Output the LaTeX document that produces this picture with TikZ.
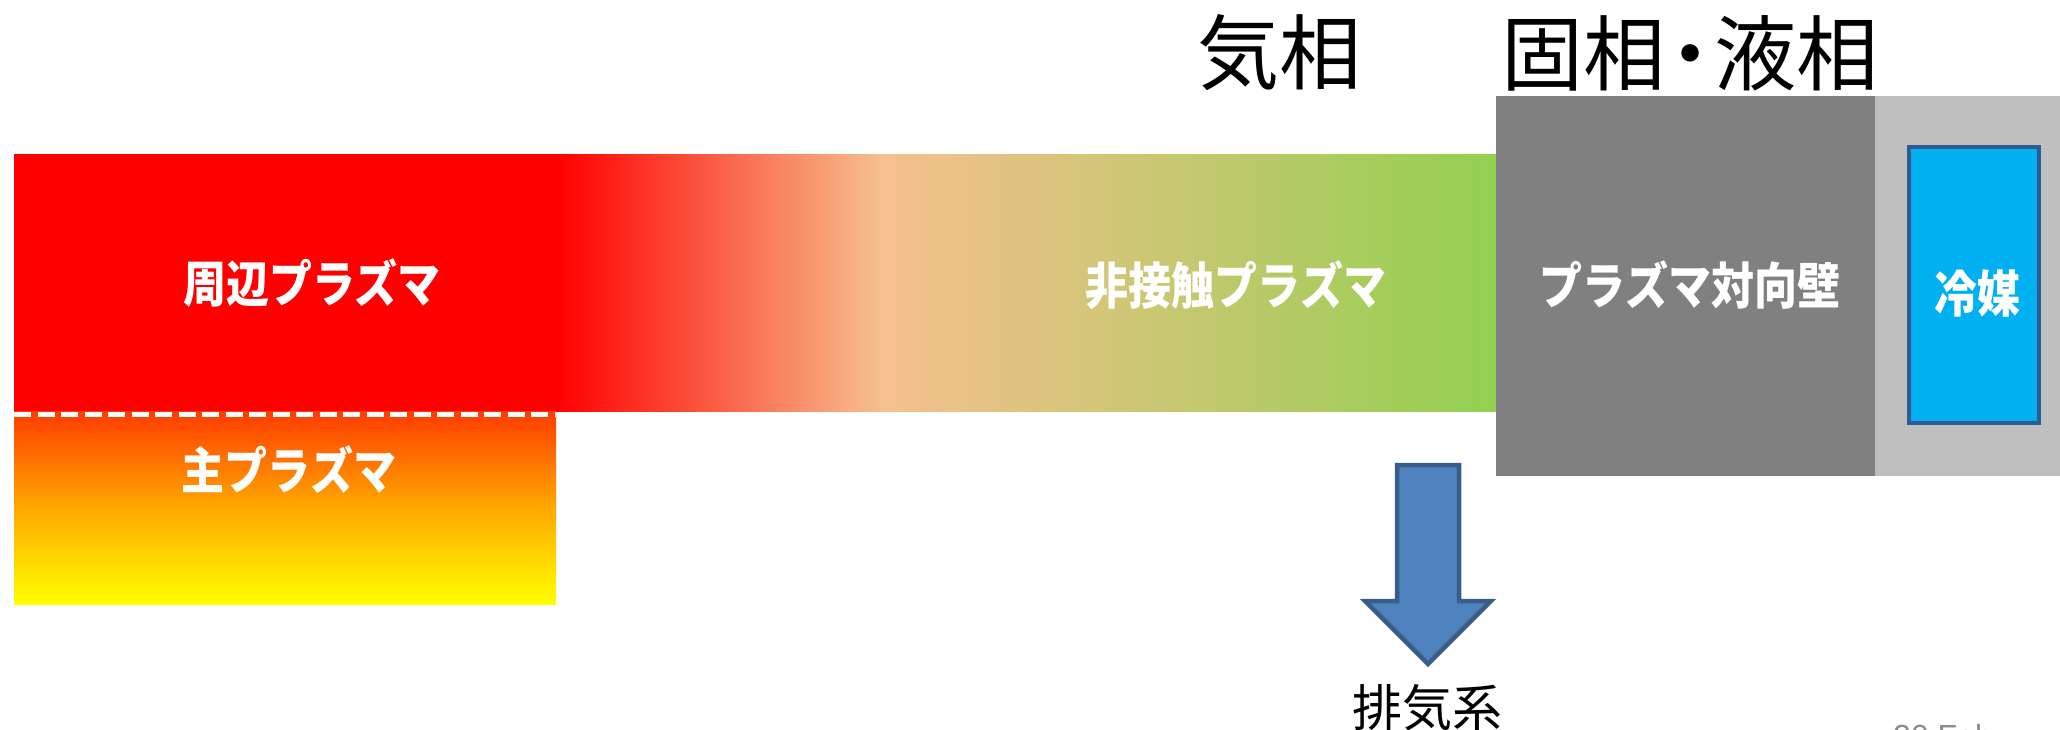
\documentclass[tikz,border=0pt]{standalone}
\usepackage{fontspec}
\setmainfont{Liberation Sans}
\newfontfamily\jp{Noto Sans CJK JP}
\newfontfamily\jpb{Noto Sans CJK JP}[FakeStretch=0.86]
\definecolor{plred}{HTML}{FF0000}
\definecolor{peach}{HTML}{F6C08E}
\definecolor{plgreen}{HTML}{92D050}
\definecolor{mainTop}{HTML}{FF3C00}
\definecolor{mainMid}{HTML}{FFA800}
\definecolor{mainBot}{HTML}{FFFF00}
\definecolor{wallgray}{HTML}{808080}
\definecolor{lightgray2}{HTML}{BFBFBF}
\definecolor{coolfill}{HTML}{00B0F0}
\definecolor{coolline}{HTML}{2F5B93}
\definecolor{arrfill}{HTML}{4F81BD}
\definecolor{arrline}{HTML}{385D8A}
\definecolor{footgray}{HTML}{8C8C8C}
\pgfdeclarehorizontalshading{barshade}{100bp}{color(0bp)=(plred); color(25bp)=(plred); color(43.3bp)=(plred); color(54.2bp)=(peach); color(75bp)=(plgreen); color(100bp)=(plgreen)}
\tikzset{
  whitelbl/.style={text=white, inner sep=0pt, font=\jpb\bfseries\fontsize{50}{55}\selectfont},
  titlelbl/.style={text=black, inner sep=0pt, font=\jp\fontsize{82}{90}\selectfont},
  smalllbl/.style={text=black, inner sep=0pt, font=\jp\fontsize{50}{55}\selectfont},
}
\begin{document}
\begin{tikzpicture}[x=1pt, y=-1pt]
\useasboundingbox (0,0) rectangle (2060,730);
% gradient bar (edge + detached plasma)
\shade[shading=barshade] (14,155) rectangle (1498,411);
% main plasma
\shade[top color=mainTop, bottom color=mainBot, middle color=mainMid] (14,411) rectangle (556,604);
\draw[white, line width=5pt, dash pattern=on 17pt off 6.5pt] (14,414) -- (556,414);
% wall and coolant
\fill[wallgray] (1496,96) rectangle (1876,476);
\fill[lightgray2] (1875,96) rectangle (2060,476);
\draw[coolline, line width=4pt, fill=coolfill] (1909,147) rectangle (2039,423);
% exhaust arrow
\coordinate (atip) at (1428,664);
\draw[arrline, fill=arrfill, line width=4.5pt, line join=miter]
  (1397,465) -- (1459,465) -- (1459,601) -- (1491,601) -- (atip)
  -- (1365,601) -- (1397,601) -- cycle;
% labels
\node[whitelbl] (edge) at (312,283) {周辺プラズマ};
\node[whitelbl] (core) at (289,470) {主プラズマ};
\node[whitelbl] (detached) at (1236,285) {非接触プラズマ};
\node[whitelbl] (wall) at (1690,285) {プラズマ対向壁};
\node[whitelbl] (coolant) at (1977,293) {冷媒};
\node[titlelbl] (gas) at (1279,53) {気相};
\node[titlelbl] (solid) at (1690,53) {固相\kern-0.2em・\kern-0.2em液相};
\node[smalllbl] (exhaust) at (1427,708) {排気系};
\node[anchor=north west, inner sep=0pt, text=footgray, font=\fontsize{32}{36}\selectfont] (date) at (1893,724) {20 Feb};
\end{tikzpicture}
\end{document}
